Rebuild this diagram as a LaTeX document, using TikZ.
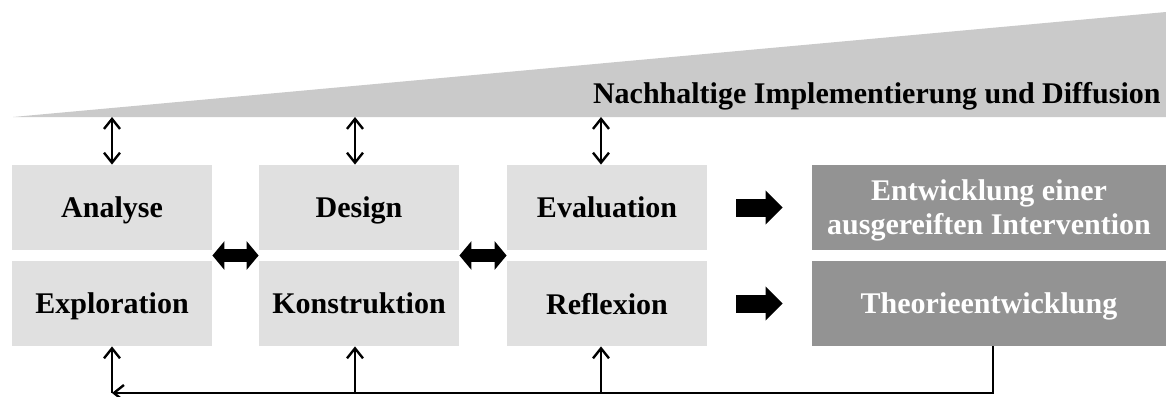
\documentclass[tikz,border=0pt]{standalone}
\usepackage{fontspec}
\setmainfont{Liberation Serif}
\usetikzlibrary{arrows.meta,calc}

\definecolor{wedgegray}{RGB}{202,202,202}
\definecolor{boxgray}{RGB}{224,224,224}
\definecolor{darkgray}{RGB}{147,147,147}

\tikzset{
  phase/.style={fill=boxgray, minimum width=100pt, minimum height=42.5pt,
    inner sep=0pt, text depth=0pt},
  result/.style={fill=darkgray, minimum width=177pt, minimum height=42.5pt,
    inner sep=0pt, text depth=0pt, text=white, align=center},
  link/.style={line width=1.2pt, {Straight Barb[length=5pt,width=8pt]}-{Straight Barb[length=5pt,width=8pt]}},
  back/.style={line width=1.2pt, -{Straight Barb[length=5pt,width=8pt]}},
  swap/.style={line width=6.5pt, {Triangle[length=6pt,width=14pt]}-{Triangle[length=6pt,width=14pt]}},
  yields/.style={line width=9pt, -{Triangle[length=8.5pt,width=16.5pt]}}
}

\begin{document}
\begin{tikzpicture}[x=0.5pt, y=-0.5pt,
    node font=\bfseries\fontsize{15}{17}\selectfont]
  \useasboundingbox (0,0) rectangle (1166,396);
  % wedge
  \fill [wedgegray] (13,117) -- (1166,12) -- (1166,117) -- cycle;
  \node [anchor=base east, inner sep=0pt] (title) at (1161,103)
    {Nachhaltige Implementierung und Diffusion};
  \coordinate (base) at (0,117);
  \coordinate (loop) at (0,393);
  % phases
  \node [phase] (ana) at (112,207.5) {Analyse};
  \node [phase] (exp) at (112,303.5) {Exploration};
  \node [phase] (des) at (359,207.5) {Design};
  \node [phase] (kon) at (359,303.5) {Konstruktion};
  \node [phase] (eva) at (607,207.5) {Evaluation};
  \node [phase] (ref) at (607,303.5) {Reflexion};
  % outcomes
  \node [result] (int) at (989,207.5)
    {Entwicklung einer\\ausgereiften Intervention};
  \node [result] (the) at (989,303.5) {Theorieentwicklung};
  % links to the wedge
  \draw [link] (ana.north |- base) -- (ana.north);
  \draw [link] ([shift={(-4,0)}]des.north |- base) -- ([shift={(-4,0)}]des.north);
  \draw [link] ([shift={(-6,0)}]eva.north |- base) -- ([shift={(-6,0)}]eva.north);
  % between phases
  \draw [swap] ($(ana.south east)!.5!(exp.north east)$)
    -- ($(des.south west)!.5!(kon.north west)$);
  \draw [swap] ($(des.south east)!.5!(kon.north east)$)
    -- ($(eva.south west)!.5!(ref.north west)$);
  \draw [yields, shorten <=29pt/2, shorten >=29pt/2] (eva) -- (int);
  \draw [yields, shorten <=29pt/2, shorten >=29pt/2] (ref) -- (the);
  % feedback loop
  \draw [back] ([shift={(4,0)}]the.south) -- ([shift={(4,0)}]the.south |- loop)
    -- (exp.south |- loop);
  \draw [back] (exp.south |- loop) -- (exp.south);
  \draw [back] ([shift={(-4,0)}]kon.south |- loop) -- ([shift={(-4,0)}]kon.south);
  \draw [back] ([shift={(-6,0)}]ref.south |- loop) -- ([shift={(-6,0)}]ref.south);
\end{tikzpicture}
\end{document}
